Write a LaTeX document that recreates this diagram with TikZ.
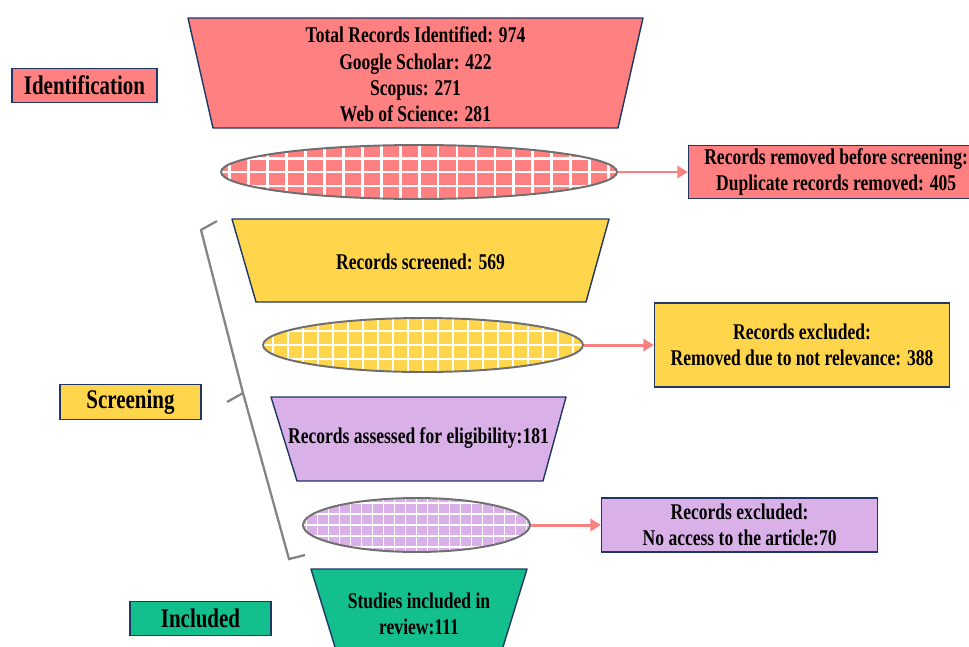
\documentclass[tikz,border=0pt]{standalone}
\usepackage{fontspec}
\setmainfont{Liberation Serif}[FakeStretch=0.78]
\usetikzlibrary{positioning, shapes.geometric, arrows.meta}

\definecolor{idred}{HTML}{FF8080}
\definecolor{scrgold}{HTML}{FFD64B}
\definecolor{elilav}{HTML}{D9B1E8}
\definecolor{incgreen}{HTML}{14BF8E}
\definecolor{navy}{HTML}{1F3763}
\definecolor{rimgray}{HTML}{6E6E6E}
\definecolor{arrowred}{HTML}{F88282}

\begin{document}
\begin{tikzpicture}[x=0.02cm, y=-0.02cm,
        node distance=1.4cm,
        every node/.style={font=\bfseries\fontsize{12.8}{15}\selectfont},
        funnel/.style={draw=navy, line width=0.8pt, line join=round},
        funneltext/.style={inner sep=0pt, align=center},
        stage/.style={rectangle, draw=navy, line width=0.8pt, inner sep=0pt, minimum width=2.82cm, minimum height=0.69cm, font=\bfseries\fontsize{15.3}{18}\selectfont},
        outbox/.style={rectangle, draw=navy, line width=0.8pt, inner sep=0pt, align=center},
        mesh/.style n args={3}{ellipse, draw=rimgray, line width=1.1pt, inner sep=0pt, minimum height=1.08cm,
            path picture={\draw[white, line width=#3, xstep=#1, ystep=#2] (path picture bounding box.south west) grid (path picture bounding box.north east);}},
        flow/.style={draw=arrowred, line width=1.7pt, -{Triangle[length=6pt, width=7pt]}},
        bracketline/.style={draw=rimgray!85, line width=1.3pt}]
    \useasboundingbox (0,0) rectangle (969,646);

    % funnel
    \draw[funnel, fill=idred] (188,18) -- (643,18) -- (618,128) -- (213,128) -- cycle;
    \node[funneltext] (identified) at (415.5,74.5) {Total Records Identified: 974\\Google Scholar: 422\\Scopus: 271\\Web of Science: 281};
    \node[mesh={0.38cm}{0.28cm}{1.7pt}, fill=idred, minimum width=7.92cm] (dup) at (419,172) {};
    \draw[funnel, fill=scrgold] (232,219) -- (609,219) -- (586,302) -- (256,302) -- cycle;
    \node[funneltext] (screened) at (420.5,262) {Records screened: 569};
    \node[mesh={0.3cm}{0.28cm}{1.4pt}, fill=scrgold, minimum width=6.4cm] (relev) at (423,345) {};
    \draw[funnel, fill=elilav] (271,397) -- (566,397) -- (543,481) -- (297,481) -- cycle;
    \node[funneltext] (assessed) at (418.5,438) {Records assessed for eligibility:181};
    \node[mesh={0.22cm}{0.22cm}{1.1pt}, fill=elilav, minimum width=4.54cm] (access) at (416.5,525) {};
    \draw[funnel, fill=incgreen] (311,569) -- (527,569) -- (499,660) -- (339,660) -- cycle;
    \node[funneltext] (included) at (419,614) {Studies included in\\review:111};

    % removed records
    \node[outbox, fill=idred, minimum width=5.9cm, minimum height=1.06cm] (removed) [right=of dup] {Records removed before screening:\\Duplicate records removed: 405};
    \node[outbox, fill=scrgold, minimum width=5.9cm, minimum height=1.68cm] (excl1) [right=of relev] {Records excluded:\\Removed due to not relevance: 388};
    \node[outbox, fill=elilav, minimum width=5.52cm, minimum height=1.08cm] (excl2) [right=of access] {Records excluded:\\No access to the article:70};
    \draw[flow] (dup) -- (removed);
    \draw[flow] (relev) -- (excl1);
    \draw[flow] (access) -- (excl2);

    % stages
    \node[stage, fill=idred, minimum width=2.9cm] (identification) at (84.5,85.5) {Identification};
    \node[stage, fill=scrgold] (screening) at (130.5,402) {Screening};
    \node[stage, fill=incgreen] (inclabel) at (200.5,618.5) {Included};
    \draw[bracketline] (217,221) -- (201,230) -- (243,393) -- (289,559) -- (305,555);
    \draw[bracketline] (243,393) -- (227,402);
\end{tikzpicture}
\end{document}
